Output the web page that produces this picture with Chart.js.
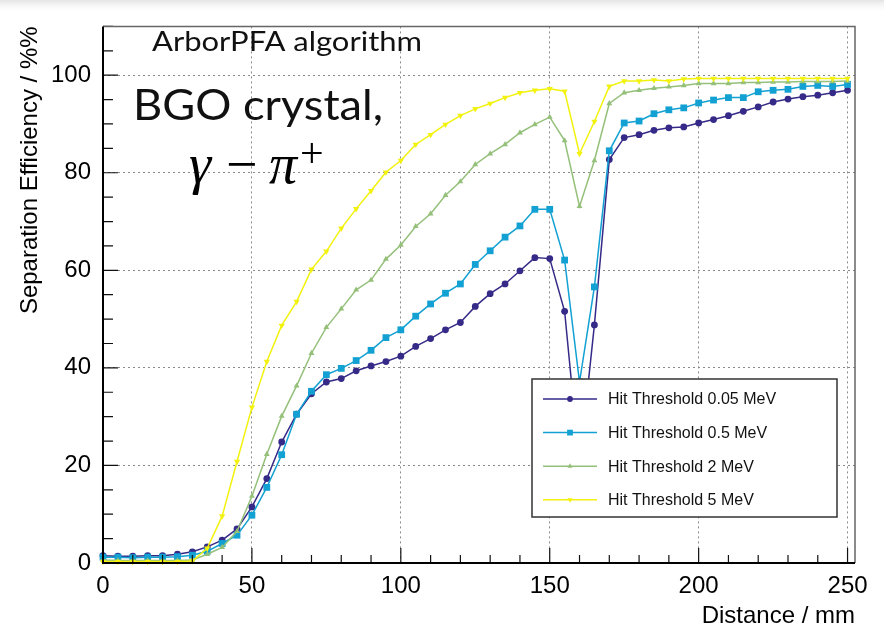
<!DOCTYPE html>
<html>
<head>
<meta charset="utf-8">
<script src="https://cdn.jsdelivr.net/npm/chart.js@4.4.0/dist/chart.umd.min.js"></script>
<style>
  body { margin: 0; background: #fff; }
  #wrap { width: 884px; height: 626px; }
</style>
</head>
<body>
<div id="wrap"><canvas id="sepChart" width="884" height="626"></canvas></div>
<script>
// Distance in mm
const distances = [0, 5, 10, 15, 20, 25, 30, 35, 40, 45, 50, 55, 60, 65, 70, 75, 80, 85, 90, 95,
    100, 105, 110, 115, 120, 125, 130, 135, 140, 145, 150, 155, 160, 165, 170, 175, 180, 185, 190, 195,
    200, 205, 210, 215, 220, 225, 230, 235, 240, 245, 250];

// Separation efficiency (%) for each hit threshold
const eff005 = [1.5, 1.4, 1.4, 1.5, 1.5, 1.8, 2.3, 3.3, 4.7, 7.0, 11.5, 17.3, 24.8, 30.5, 34.7, 37.1, 37.8, 39.4, 40.4, 41.3,
    42.4, 44.4, 46.0, 47.8, 49.3, 52.6, 55.2, 57.2, 59.9, 62.6, 62.4, 51.6, 20.0, 48.8, 82.7, 87.2, 87.8, 88.7, 89.2, 89.4,
    90.2, 90.9, 91.7, 92.6, 93.5, 94.5, 95.1, 95.6, 95.9, 96.4, 96.9];
const eff05 = [1.2, 1.2, 1.1, 1.2, 1.2, 1.3, 1.6, 2.4, 4.0, 5.7, 9.8, 15.5, 22.2, 30.5, 35.2, 38.6, 39.9, 41.5, 43.6, 46.2,
    47.8, 50.6, 53.1, 55.3, 57.2, 61.2, 64.0, 66.8, 69.1, 72.5, 72.5, 62.1, 37.1, 56.6, 84.5, 90.2, 90.6, 92.1, 92.9, 93.3,
    94.3, 94.9, 95.4, 95.4, 96.6, 96.9, 97.1, 97.7, 97.9, 97.7, 98.1];
const eff2 = [0.6, 0.5, 0.5, 0.5, 0.5, 0.5, 0.6, 1.8, 3.2, 6.5, 13.7, 22.3, 30.1, 36.3, 43.0, 48.3, 52.1, 56.0, 58.0, 62.3,
    65.2, 69.0, 71.6, 75.4, 78.2, 81.7, 83.9, 85.8, 88.2, 89.9, 91.4, 86.6, 73.1, 82.5, 94.2, 96.4, 96.9, 97.3, 97.6, 97.9,
    98.3, 98.3, 98.3, 98.5, 98.5, 98.6, 98.6, 98.7, 98.7, 98.7, 98.8];
const eff5 = [0.3, 0.3, 0.3, 0.3, 0.3, 0.3, 0.4, 3.0, 9.6, 20.8, 31.9, 41.3, 48.7, 53.6, 60.2, 63.9, 68.6, 72.6, 76.3, 80.1,
    82.5, 85.8, 87.8, 89.9, 91.7, 93.1, 94.2, 95.4, 96.4, 96.9, 97.2, 96.7, 83.9, 90.5, 97.7, 98.8, 98.8, 99.0, 98.8, 99.2,
    99.3, 99.3, 99.3, 99.3, 99.3, 99.3, 99.3, 99.3, 99.3, 99.3, 99.3];

const seriesLabels = ['Hit Threshold 0.05 MeV', 'Hit Threshold 0.5 MeV', 'Hit Threshold 2 MeV', 'Hit Threshold 5 MeV'];
const seriesValues = [eff005, eff05, eff2, eff5];
const seriesColors = ['#352a87', '#12a1d2', '#94c07a', '#f2f20e'];
const seriesMarkers = [
    { style: 'circle', radius: 3.4, rotation: 0 },
    { style: 'rect', radius: 4.8, rotation: 0 },
    { style: 'triangle', radius: 3.4, rotation: 0 },
    { style: 'triangle', radius: 3.6, rotation: 180 }
];

Chart.defaults.font.family = '"Liberation Sans", Arial, Helvetica, sans-serif';
Chart.defaults.color = '#000';

const datasets = seriesValues.map((vals, i) => ({
    label: seriesLabels[i],
    data: distances.map((d, j) => ({ x: d, y: vals[j] })),
    borderColor: seriesColors[i],
    backgroundColor: seriesColors[i],
    borderWidth: 1.5,
    pointStyle: seriesMarkers[i].style,
    pointRadius: seriesMarkers[i].radius,
    pointRotation: seriesMarkers[i].rotation,
    pointBorderWidth: 0,
    tension: 0,
    clip: false,
    order: 3 - i
}));

// marker helper for the legend
function drawMarker(ctx, m, x, y, r, color) {
    ctx.save();
    ctx.fillStyle = color;
    ctx.translate(x, y);
    ctx.rotate(m.rotation * Math.PI / 180);
    ctx.beginPath();
    if (m.style === 'circle') {
        ctx.arc(0, 0, r, 0, Math.PI * 2);
    } else if (m.style === 'rect') {
        const s = r * Math.SQRT1_2;
        ctx.rect(-s, -s, 2 * s, 2 * s);
    } else {
        for (let k = 0; k < 3; k++) {
            const a = -Math.PI / 2 + k * 2 * Math.PI / 3;
            const px = Math.cos(a) * r, py = Math.sin(a) * r;
            if (k === 0) ctx.moveTo(px, py); else ctx.lineTo(px, py);
        }
        ctx.closePath();
    }
    ctx.fill();
    ctx.restore();
}

const bgPlugin = {
    id: 'bg',
    beforeDraw(chart) {
        const ctx = chart.ctx;
        ctx.save();
        ctx.fillStyle = '#fff';
        ctx.fillRect(0, 0, chart.width, chart.height);
        const g = ctx.createLinearGradient(0, 0, 0, 13);
        g.addColorStop(0, '#e4e4e4');
        g.addColorStop(1, 'rgba(255,255,255,0)');
        ctx.fillStyle = g;
        ctx.fillRect(0, 0, chart.width, 13);
        ctx.restore();
    }
};

// ROOT style frame with inward ticks
const framePlugin = {
    id: 'frame',
    afterDatasetsDraw(chart) {
        const { ctx, chartArea: a, scales: { x, y } } = chart;
        ctx.save();
        ctx.strokeStyle = '#111';
        ctx.lineWidth = 1.2;
        ctx.beginPath();
        y.ticks.forEach(t => {
            if (t.value > 110) return;
            const py = y.getPixelForValue(t.value);
            const len = t.value % 20 === 0 ? 15 : 10;
            ctx.moveTo(a.left, py);
            ctx.lineTo(a.left + len, py);
        });
        x.ticks.forEach(t => {
            if (t.value > 250) return;
            const px = x.getPixelForValue(t.value);
            const len = t.value % 50 === 0 ? 15 : 8;
            ctx.moveTo(px, a.bottom);
            ctx.lineTo(px, a.bottom - len);
        });
        ctx.stroke();

        ctx.strokeStyle = '#666';
        ctx.lineWidth = 1.5;
        ctx.beginPath();
        ctx.moveTo(a.left, a.top);
        ctx.lineTo(a.right, a.top);
        ctx.lineTo(a.right, a.bottom);
        ctx.stroke();

        ctx.strokeStyle = '#000';
        ctx.lineWidth = 2;
        ctx.beginPath();
        ctx.moveTo(a.left, a.top);
        ctx.lineTo(a.left, a.bottom);
        ctx.lineTo(a.right, a.bottom);
        ctx.stroke();
        ctx.restore();
    }
};

const legendPlugin = {
    id: 'boxLegend',
    afterDraw(chart) {
        const ctx = chart.ctx;
        const box = { x: 532, y: 379, w: 305, h: 138 };
        ctx.save();
        ctx.fillStyle = '#fff';
        ctx.fillRect(box.x, box.y, box.w, box.h);
        ctx.strokeStyle = '#333';
        ctx.lineWidth = 1.5;
        ctx.strokeRect(box.x, box.y, box.w, box.h);
        ctx.font = '16px "Liberation Sans", Arial, sans-serif';
        ctx.textBaseline = 'middle';
        ctx.fillStyle = '#111';
        chart.data.datasets.forEach((ds, i) => {
            const ry = 399 + i * 33.6;
            ctx.strokeStyle = ds.borderColor;
            ctx.lineWidth = 1.5;
            ctx.beginPath();
            ctx.moveTo(543, ry);
            ctx.lineTo(597, ry);
            ctx.stroke();
            drawMarker(ctx, seriesMarkers[i], 570, ry, seriesMarkers[i].radius * 0.85, ds.borderColor);
            ctx.fillStyle = '#111';
            ctx.fillText(ds.label, 608, ry + 1);
        });
        ctx.restore();
    }
};

function fitText(ctx, text, x, y, targetW) {
    const w = ctx.measureText(text).width;
    ctx.save();
    ctx.translate(x, y);
    ctx.scale(targetW / w, 1);
    ctx.fillText(text, 0, 0);
    ctx.restore();
}

const notePlugin = {
    id: 'notes',
    afterDraw(chart) {
        const ctx = chart.ctx;
        ctx.save();
        ctx.fillStyle = '#111';
        ctx.textBaseline = 'alphabetic';
        ctx.textAlign = 'left';
        ctx.font = '27px Lato, "Open Sans", sans-serif';
        fitText(ctx, 'ArborPFA algorithm', 152, 51, 270);
        ctx.font = '43px Lato, "Open Sans", sans-serif';
        fitText(ctx, 'BGO crystal,', 133, 120, 250);
        ctx.fillStyle = '#000';
        ctx.font = 'italic 56px "Liberation Serif", "DejaVu Serif", serif';
        ctx.fillText('\u03b3', 189, 183);
        ctx.fillText('\u03c0', 269, 183);
        ctx.font = '56px "Liberation Serif", "DejaVu Serif", serif';
        ctx.fillText('\u2212', 226, 183);
        ctx.font = '42px "Liberation Serif", "DejaVu Serif", serif';
        ctx.fillText('+', 300, 167);
        ctx.restore();
    }
};

const gridColor = '#8a8a8a';

const ctx = document.getElementById('sepChart').getContext('2d');
const sepChart = new Chart(ctx, {
    type: 'line',
    data: { datasets },
    options: {
        responsive: false,
        animation: false,
        devicePixelRatio: 1,
        layout: { padding: { top: 15, right: 29, left: 0, bottom: 0 } },
        plugins: {
            legend: { display: false },
            tooltip: { enabled: false }
        },
        scales: {
            x: {
                type: 'linear',
                min: 0,
                max: 252.5,
                ticks: {
                    stepSize: 10,
                    includeBounds: false,
                    autoSkip: false,
                    maxRotation: 0,
                    padding: 9,
                    font: { size: 24 },
                    color: '#000',
                    callback: v => (v % 50 === 0 ? String(v) : '')
                },
                grid: {
                    drawTicks: false,
                    lineWidth: 1,
                    color: c => (c.tick && c.tick.value % 50 === 0 && c.tick.value > 0 && c.tick.value <= 250) ? gridColor : 'rgba(0,0,0,0)'
                },
                border: { display: false, dash: [2, 3] },
                title: {
                    display: true,
                    text: 'Distance / mm',
                    align: 'end',
                    color: '#000',
                    font: { size: 24, lineHeight: 1 },
                    padding: { top: 0, bottom: -2 }
                },
                afterFit: s => { s.height = 63; }
            },
            y: {
                min: 0,
                max: 110,
                ticks: {
                    stepSize: 5,
                    autoSkip: false,
                    padding: 12,
                    font: { size: 24 },
                    color: '#000',
                    callback: v => (v % 20 === 0 ? String(v) : '')
                },
                grid: {
                    drawTicks: false,
                    lineWidth: 1,
                    color: c => (c.tick && c.tick.value % 20 === 0 && c.tick.value > 0) ? gridColor : 'rgba(0,0,0,0)'
                },
                border: { display: false, dash: [2, 3] },
                title: {
                    display: true,
                    text: 'Separation Efficiency / %%',
                    align: 'end',
                    color: '#000',
                    font: { size: 24 },
                    padding: { top: 16, bottom: 0 }
                },
                afterFit: s => { s.width = 103; }
            }
        }
    },
    plugins: [bgPlugin, framePlugin, legendPlugin, notePlugin]
});
</script>
</body>
</html>
